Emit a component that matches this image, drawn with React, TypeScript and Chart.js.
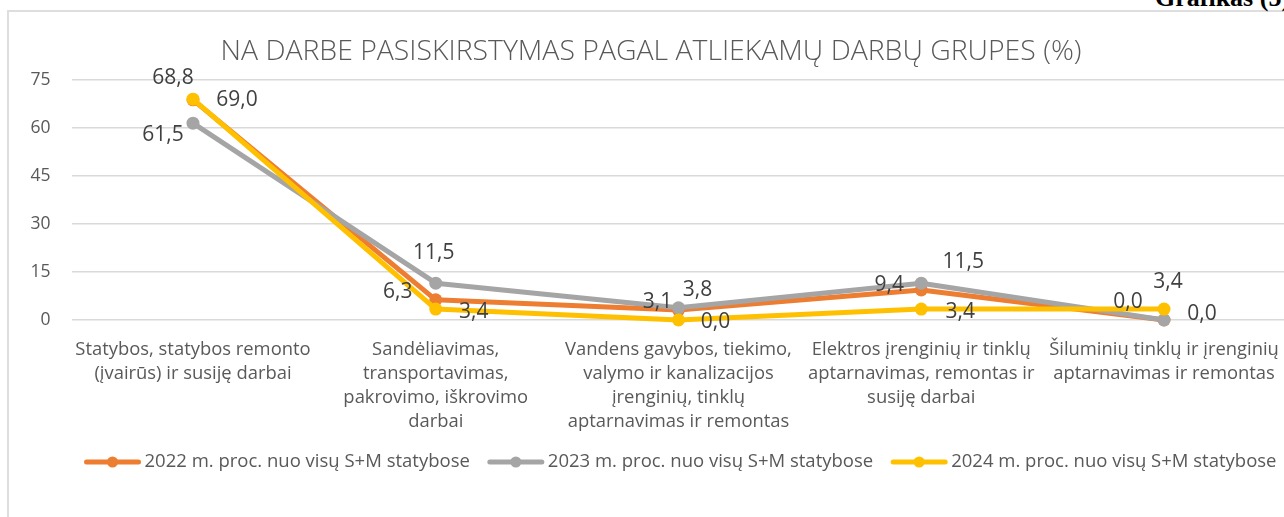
import React, { useEffect, useRef } from "react";
import { Chart, registerables } from "chart.js";

Chart.register(...registerables);

// ---- data ----
const categories: string[][] = [
  ["Statybos, statybos remonto", "(įvairūs) ir susiję darbai"],
  ["Sandėliavimas,", "transportavimas,", "pakrovimo, iškrovimo", "darbai"],
  ["Vandens gavybos, tiekimo,", "valymo ir kanalizacijos", "įrenginių, tinklų", "aptarnavimas ir remontas"],
  ["Elektros įrenginių ir tinklų", "aptarnavimas, remontas ir", "susiję darbai"],
  ["Šiluminių tinklų ir įrenginių", "aptarnavimas ir remontas"],
];
const series2022 = [68.8, 6.3, 3.1, 9.4, 0.0];
const series2023 = [61.5, 11.5, 3.8, 11.5, 0.0];
const series2024 = [69.0, 3.4, 0.0, 3.4, 3.4];
const seriesNames = [
  "2022 m. proc. nuo visų S+M statybose",
  "2023 m. proc. nuo visų S+M statybose",
  "2024 m. proc. nuo visų S+M statybose",
];
const seriesColors = ["#ED7D31", "#A5A5A5", "#FFC000"];
const yMin = 0;
const yMax = 75;
const yStep = 15;
const chartTitle = "NA DARBE PASISKIRSTYMAS PAGAL ATLIEKAMŲ DARBŲ GRUPES (%)";

// label placement (offset of each value label from its point, px)
const labelOffsets: number[][][] = [
  [[-20, -22], [-38, -8], [-21, -8], [-32, -5], [-36, -18]],
  [[-30, 12], [-2, -30], [19, -18], [42, -21], [38, -6]],
  [[44, 1], [38, 3], [37, 2], [39, 3], [4, -27]],
];

const FONT = '"Open Sans", "Noto Sans", sans-serif';
const TEXT = "#595959";

const fmt = (v: number) => v.toFixed(1).replace(".", ",");

const pointLabelsPlugin = {
  id: "pointLabels",
  afterDatasetsDraw(chart: any) {
    const ctx = chart.ctx;
    ctx.save();
    ctx.font = `21px ${FONT}`;
    ctx.fillStyle = "#404040";
    ctx.textAlign = "center";
    ctx.textBaseline = "middle";
    chart.data.datasets.forEach((ds: any, di: number) => {
      const meta = chart.getDatasetMeta(di);
      meta.data.forEach((pt: any, i: number) => {
        const off = labelOffsets[di][i];
        ctx.fillText(fmt(ds.data[i]), pt.x + off[0], pt.y + off[1]);
      });
    });
    ctx.restore();
  },
};

const titlePlugin = {
  id: "centerTitle",
  afterDraw(chart: any) {
    const ctx = chart.ctx;
    ctx.save();
    ctx.font = `300 28.4px ${FONT}`;
    ctx.fillStyle = TEXT;
    ctx.textAlign = "center";
    ctx.textBaseline = "middle";
    ctx.fillText(chartTitle, chart.width / 2, chart.chartArea.top - 28);
    ctx.restore();
  },
};

const lineLegendPlugin = {
  id: "lineLegend",
  afterDraw(chart: any) {
    const ctx = chart.ctx;
    const area = chart.chartArea;
    ctx.save();
    ctx.font = `18.5px ${FONT}`;
    const swatch = 56;
    const gap = 4;
    const itemGap = 18;
    const items = chart.data.datasets.map((ds: any) => ({
      text: ds.label as string,
      color: ds.borderColor as string,
      w: swatch + gap + ctx.measureText(ds.label).width,
    }));
    const total = items.reduce((s: number, it: any) => s + it.w, 0) + itemGap * (items.length - 1);
    let x = (area.left + area.right) / 2 + 2 - total / 2;
    const y = area.bottom + 142;
    items.forEach((it: any) => {
      ctx.strokeStyle = it.color;
      ctx.lineWidth = 5;
      ctx.lineCap = "round";
      ctx.beginPath();
      ctx.moveTo(x + 2, y);
      ctx.lineTo(x + swatch - 2, y);
      ctx.stroke();
      ctx.fillStyle = it.color;
      ctx.beginPath();
      ctx.arc(x + swatch / 2, y, 5.5, 0, Math.PI * 2);
      ctx.fill();
      ctx.fillStyle = TEXT;
      ctx.textAlign = "left";
      ctx.textBaseline = "middle";
      ctx.fillText(it.text, x + swatch + gap, y);
      x += it.w + itemGap;
    });
    ctx.restore();
  },
};

export default function App() {
  const ref = useRef<HTMLCanvasElement | null>(null);

  useEffect(() => {
    if (!ref.current) return;
    const all = [series2022, series2023, series2024];
    const chart = new Chart(ref.current, {
      type: "line",
      data: {
        labels: categories as any,
        datasets: all.map((d, i) => ({
          label: seriesNames[i],
          data: d,
          borderColor: seriesColors[i],
          backgroundColor: seriesColors[i],
          pointBackgroundColor: seriesColors[i],
          pointBorderWidth: 0,
          pointRadius: 6.5,
          borderWidth: 5,
          borderJoinStyle: "round" as const,
          borderCapStyle: "round" as const,
          tension: 0,
          fill: false,
          clip: false as any,
          order: all.length - i,
        })),
      },
      options: {
        responsive: false,
        animation: false,
        devicePixelRatio: 1,
        layout: { padding: { left: 0, right: 16.6, top: 80, bottom: 67 } },
        plugins: {
          legend: { display: false },
          tooltip: { enabled: false },
          title: { display: false },
        },
        scales: {
          x: {
            offset: true,
            grid: { display: false, drawTicks: false },
            border: { display: false },
            ticks: {
              color: TEXT,
              font: { family: FONT, size: 18.4, lineHeight: 24 / 18.4 },
              padding: 18,
              maxRotation: 0,
              minRotation: 0,
              autoSkip: false,
            },
            afterFit: (scale: any) => {
              scale.height = 130;
            },
          },
          y: {
            min: yMin,
            max: yMax,
            grid: { color: "#d9d9d9", lineWidth: 1.5, drawTicks: false },
            border: { display: false },
            ticks: {
              stepSize: yStep,
              color: TEXT,
              font: { family: FONT, size: 17.5 },
              padding: 21,
            },
            afterFit: (scale: any) => {
              scale.width = 71.6;
            },
          },
        },
      },
      plugins: [pointLabelsPlugin, titlePlugin, lineLegendPlugin],
    });
    return () => chart.destroy();
  }, []);

  return (
    <div
      style={{
        position: "fixed",
        left: 0,
        top: 0,
        width: 1284,
        height: 517,
        overflow: "hidden",
        background: "#fff",
      }}
    >
      <div
        style={{
          position: "absolute",
          left: 7,
          top: 10,
          width: 1400,
          height: 700,
          border: "2px solid #dedede",
          boxSizing: "border-box",
        }}
      />
      <div
        style={{
          position: "absolute",
          left: 1155,
          top: -15,
          font: 'bold 26px "Liberation Serif", "Times New Roman", serif',
          lineHeight: "26px",
          color: "#000",
          whiteSpace: "nowrap",
        }}
      >
        Grafikas (5)
      </div>
      <canvas
        ref={ref}
        width={1302}
        height={517}
        style={{ position: "absolute", left: 0, top: 0, width: 1302, height: 517 }}
      />
    </div>
  );
}
